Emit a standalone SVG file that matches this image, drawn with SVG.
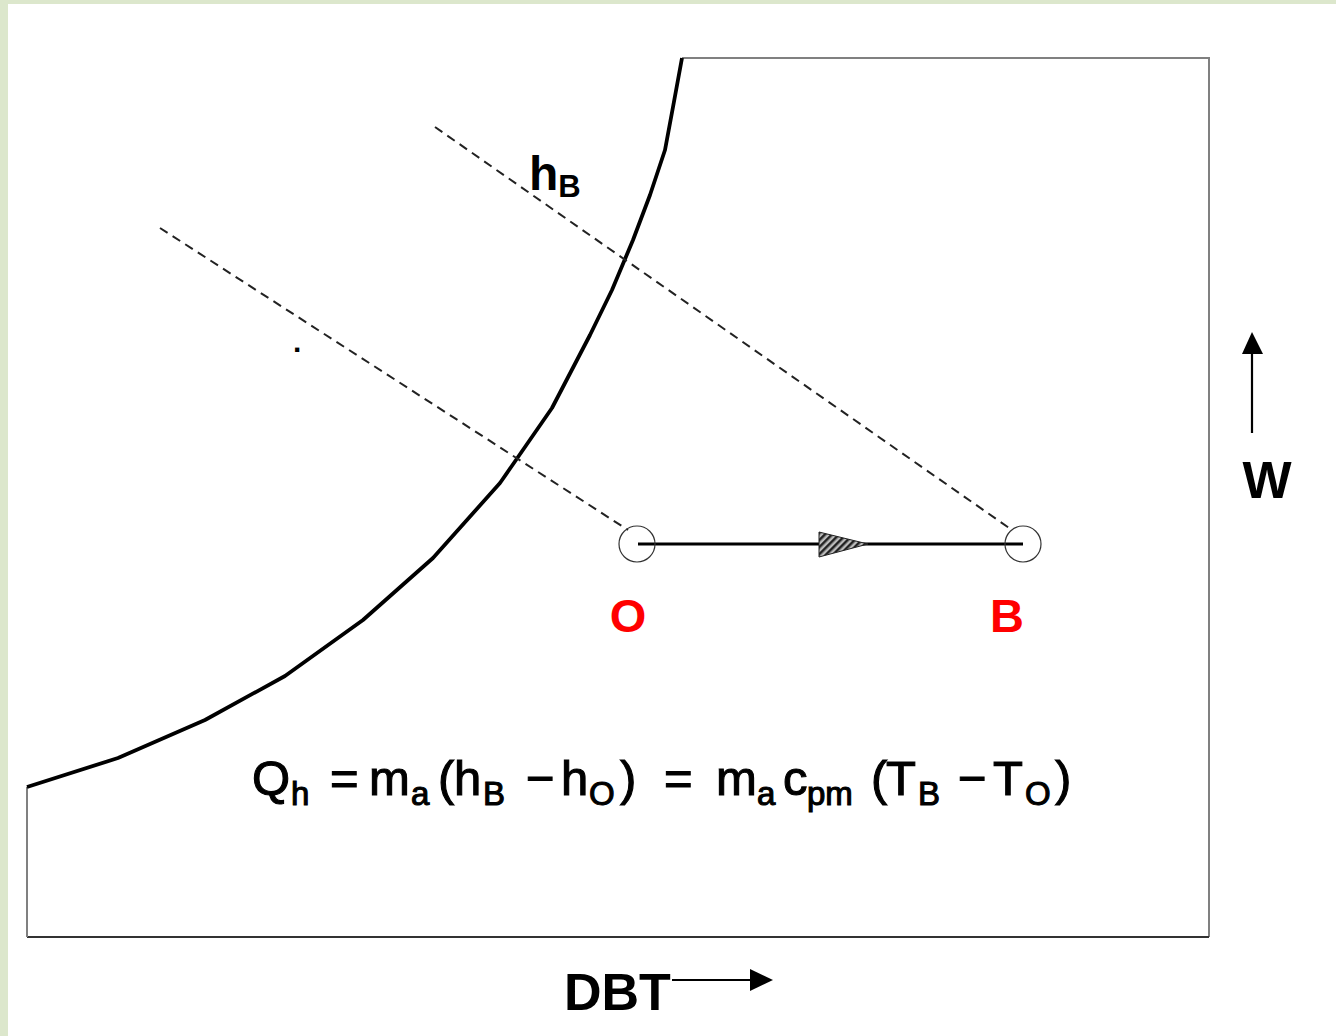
<svg xmlns="http://www.w3.org/2000/svg" width="1336" height="1036" viewBox="0 0 1336 1036">
<defs>
<style>
.frame{fill:none;stroke:#808080;stroke-width:2}
.dash{fill:none;stroke:#222;stroke-width:2;stroke-dasharray:9 6}
.lbl{font-family:"Liberation Sans",Arial,sans-serif;font-weight:bold;fill:#000}
.red{fill:#ff0000}
.eq{font-family:"Liberation Sans",Arial,sans-serif;font-size:49px;fill:#000;stroke:#000;stroke-width:1.1}
.sub{font-size:33px}
.pt{fill:none;stroke:#333;stroke-width:1.2}
</style>
<pattern id="hatch" width="5" height="5" patternUnits="userSpaceOnUse" patternTransform="rotate(45)">
<rect width="5" height="5" fill="#bbb"/>
<rect width="2.5" height="5" fill="#222"/>
</pattern>
</defs>
<rect x="0" y="0" width="1336" height="1036" fill="#dce7cc"/>
<rect x="8" y="4" width="1328" height="1032" fill="#ffffff"/>

<g id="chart">
<path class="frame" d="M682,58 L1209,58 L1209,937"/>
<path fill="none" stroke="#333" stroke-width="2" d="M27,937 L1209,937"/>
<path class="frame" d="M27,787 L27,937"/>
<polyline fill="none" stroke="#000" stroke-width="3.8" stroke-linejoin="round" points="27,787 118,758 205,720 285,676 363,620 433,558 500,483 552,408 590,335 612,290 633,240 650,195 665,150 673,107 682,58"/>
</g>

<g id="connectors">
<line class="dash" x1="160" y1="228" x2="628" y2="530"/>
<line class="dash" x1="435" y1="127" x2="1012" y2="530"/>
<line x1="638" y1="544" x2="1023" y2="544" stroke="#000" stroke-width="3.2"/>
<path d="M819,532 L868,544 L819,557 Z" fill="url(#hatch)" stroke="#222" stroke-width="1"/>
<line x1="672" y1="980" x2="752" y2="980" stroke="#000" stroke-width="2.2"/>
<path d="M750,969 L773,980 L750,991 Z" fill="#000"/>
<line x1="1252" y1="433" x2="1252" y2="352" stroke="#000" stroke-width="2.2"/>
<path d="M1242,354 L1252,332 L1263,354 Z" fill="#000"/>
</g>

<g id="node-O">
<circle class="pt" cx="637" cy="544" r="18"/>
<text class="lbl red" x="628" y="632" font-size="47" text-anchor="middle">O</text>
</g>
<g id="node-B">
<circle class="pt" cx="1023" cy="544" r="18"/>
<text class="lbl red" x="1007" y="632" font-size="47" text-anchor="middle">B</text>
</g>

<g id="labels">
<text class="lbl" x="529" y="190" font-size="48">h<tspan font-size="31" y="197">B</tspan></text>
<text class="lbl" x="293" y="352" font-size="30">.</text>
<text class="lbl" x="1267" y="498" font-size="52" text-anchor="middle">W</text>
<text class="lbl" x="564" y="1010" font-size="52">DBT</text>
</g>

<g id="equation">
<text class="eq" y="795">
<tspan x="252">Q</tspan><tspan class="sub" x="291" y="805">h</tspan>
<tspan x="330" y="795">=</tspan>
<tspan x="369">m</tspan><tspan class="sub" x="411" y="805">a</tspan>
<tspan x="438" y="795">(</tspan>
<tspan x="454">h</tspan><tspan class="sub" x="483" y="805">B</tspan>
<tspan x="526" y="795">−</tspan>
<tspan x="561">h</tspan><tspan class="sub" x="589" y="805">O</tspan>
<tspan x="620" y="795">)</tspan>
<tspan x="664">=</tspan>
<tspan x="716">m</tspan><tspan class="sub" x="757" y="805">a</tspan>
<tspan x="783" y="795">c</tspan><tspan class="sub" x="807" y="805">pm</tspan>
<tspan x="871" y="795">(</tspan>
<tspan x="886">T</tspan><tspan class="sub" x="918" y="805">B</tspan>
<tspan x="958" y="795">−</tspan>
<tspan x="993">T</tspan><tspan class="sub" x="1025" y="805">O</tspan>
<tspan x="1055" y="795">)</tspan>
</text>
</g>
</svg>
